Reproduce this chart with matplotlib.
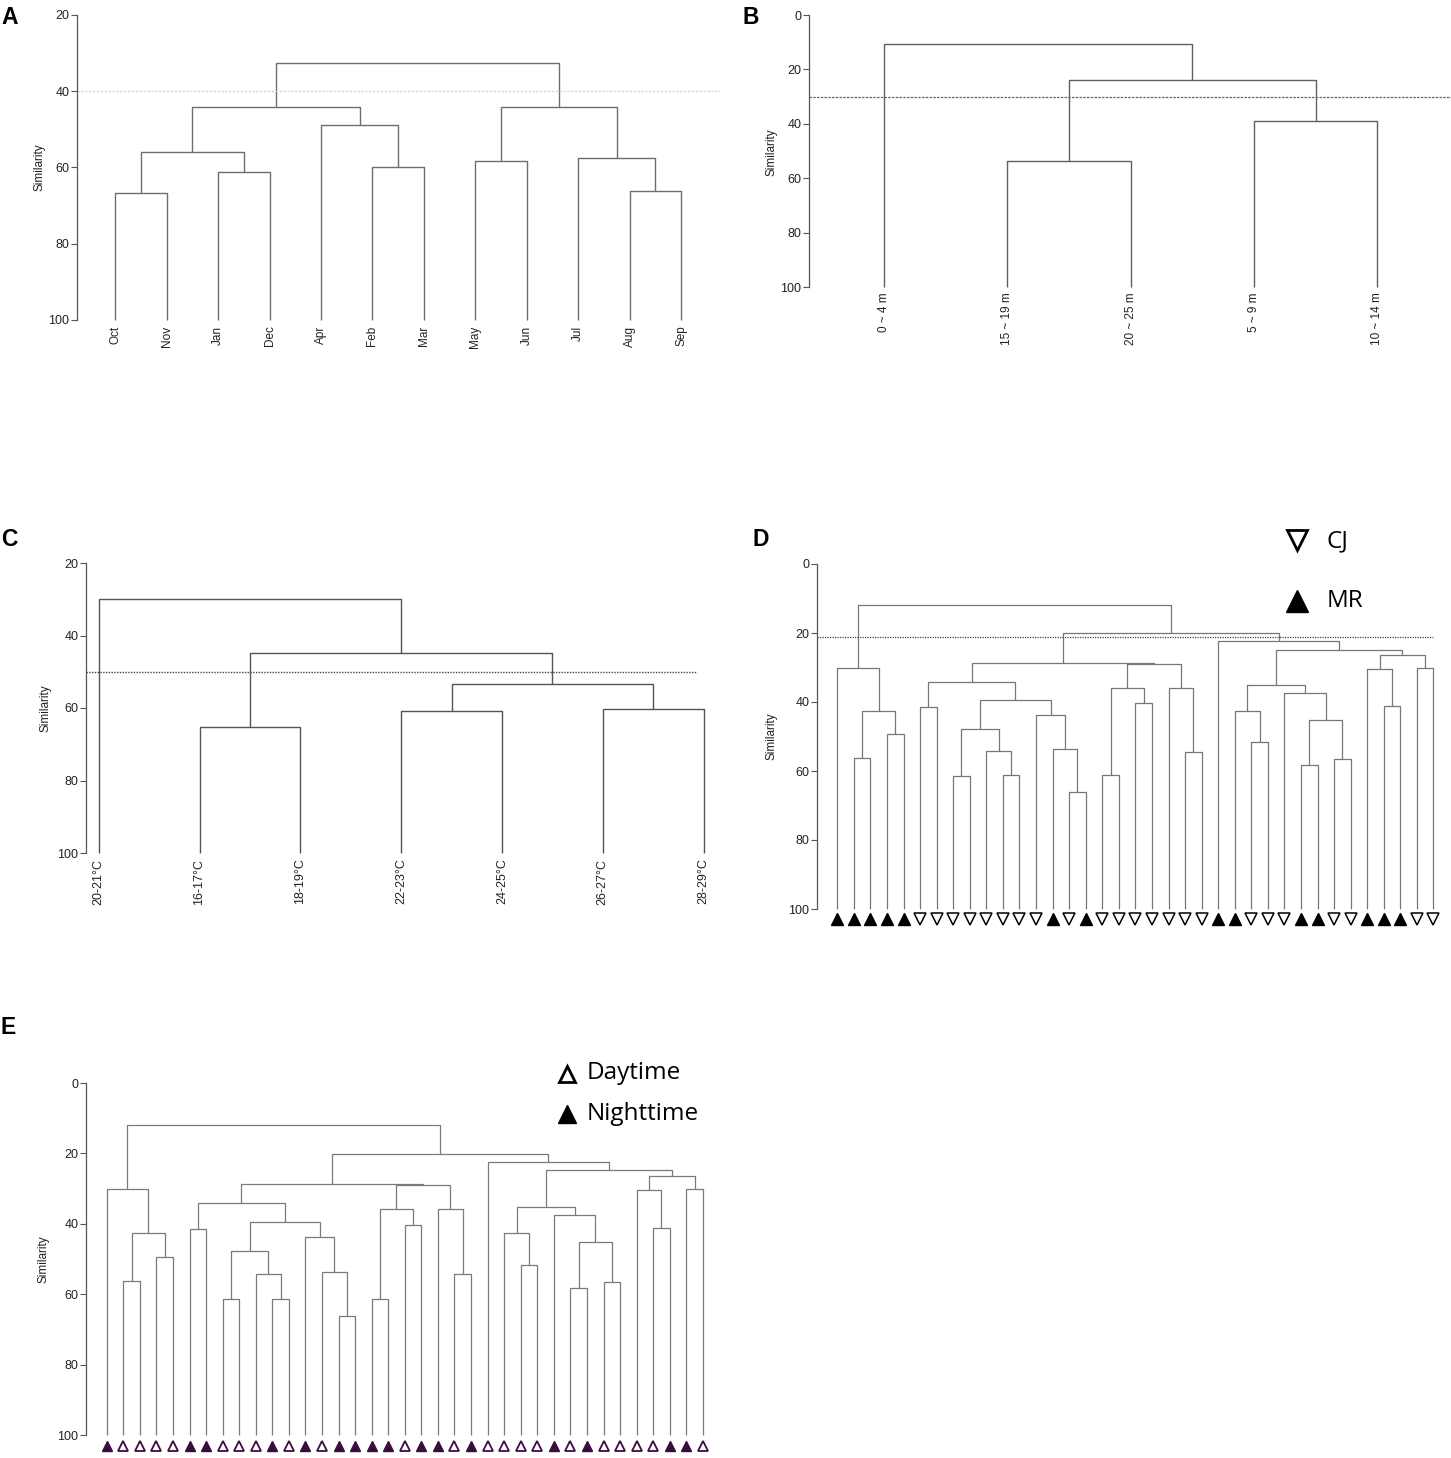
import numpy as np
import matplotlib.pyplot as plt
from matplotlib.lines import Line2D

plt.rcParams['font.family'] = ['Liberation Sans', 'DejaVu Sans']

W, H = 1451, 1458

# A: monthly clusters
month_labels = ['Oct', 'Nov', 'Jan', 'Dec', 'Apr', 'Feb', 'Mar', 'May', 'Jun', 'Jul', 'Aug', 'Sep']
month_links = [(0, 1, 66.6), (2, 3, 61.3), (12, 13, 55.9), (5, 6, 60.0), (4, 15, 48.9),
               (14, 16, 44.2), (7, 8, 58.2), (10, 11, 66.1), (9, 19, 57.4), (18, 20, 44.2),
               (17, 21, 32.7)]
month_cut = 40

# B: depth classes
depth_labels = ['0 ~ 4 m', '15 ~ 19 m', '20 ~ 25 m', '5 ~ 9 m', '10 ~ 14 m']
depth_links = [(1, 2, 53.5), (3, 4, 38.8), (5, 6, 23.9), (0, 7, 10.5)]
depth_cut = 30

# C: temperature classes
temp_labels = ['20-21°C', '16-17°C', '18-19°C', '22-23°C', '24-25°C', '26-27°C', '28-29°C']
temp_links = [(1, 2, 65.2), (3, 4, 60.7), (5, 6, 60.2), (8, 9, 53.4), (7, 10, 44.9), (0, 11, 29.8)]
temp_cut = 50

# D / E: 37 samples, same tree
sample_links = [(1, 2, 56.2), (3, 4, 49.4), (37, 38, 42.7), (0, 39, 30.1),
                (5, 6, 41.4), (7, 8, 61.5), (10, 11, 61.3), (9, 43, 54.3), (42, 44, 47.8),
                (14, 15, 66.1), (13, 46, 53.7), (12, 47, 43.8), (45, 48, 39.4), (41, 49, 34.2),
                (16, 17, 61.3), (18, 19, 40.3), (51, 52, 35.8), (21, 22, 54.4), (20, 54, 35.8),
                (53, 55, 29.1), (50, 56, 28.6),
                (25, 26, 51.6), (24, 58, 42.6), (28, 29, 58.3), (30, 31, 56.6), (60, 61, 45.1),
                (27, 62, 37.4), (59, 63, 35.2), (33, 34, 41.2), (32, 65, 30.3), (35, 36, 30.1),
                (66, 67, 26.3), (64, 68, 24.8), (23, 69, 22.4), (57, 70, 20.1), (40, 71, 11.8)]
site_group = [1, 1, 1, 1, 1, 0, 0, 0, 0, 0, 0, 0, 0, 1, 0, 1, 0, 0, 0, 0, 0, 0, 0,
              1, 1, 0, 0, 0, 1, 1, 0, 0, 1, 1, 1, 0, 0]   # 1 = MR, 0 = CJ
time_group = [1, 0, 0, 0, 0, 1, 1, 0, 0, 0, 1, 0, 1, 0, 1, 1, 1, 1, 0, 1, 1, 0, 1,
              0, 0, 0, 0, 1, 0, 1, 0, 0, 0, 0, 1, 1, 0]   # 1 = Nighttime
site_cut = 21.3

fig = plt.figure(figsize=(W / 100, H / 100), dpi=100)


def panel(left, top, right, bottom, x0, dx, ytop, ticks):
    ax = fig.add_axes([left / W, 1 - bottom / H, (right - left) / W, (bottom - top) / H])
    ax.set_xlim((left - x0) / dx, (right - x0) / dx)
    ax.set_ylim(100, ytop)
    for s in ['top', 'right', 'bottom']:
        ax.spines[s].set_visible(False)
    ax.spines['left'].set_color('#555555')
    ax.spines['left'].set_linewidth(0.9)
    ax.set_yticks(ticks)
    ax.tick_params(axis='y', length=4, width=0.8, color='#555555', labelsize=9,
                   labelcolor='#222222', pad=1.5)
    ax.tick_params(axis='x', length=0, labelsize=8.5, labelcolor='#222222', pad=4)
    ax.patch.set_alpha(0)
    return ax


def draw_tree(ax, links, n, color='#707070', lw=1.0):
    xs = {i: float(i) for i in range(n)}
    hs = {i: 100.0 for i in range(n)}
    for k, (a, b, h) in enumerate(links):
        ax.plot([xs[a], xs[a], xs[b], xs[b]], [hs[a], h, h, hs[b]],
                color=color, lw=lw, solid_capstyle='butt', clip_on=False)
        xs[n + k] = (xs[a] + xs[b]) / 2
        hs[n + k] = h


def sim_label(x, y):
    fig.text(x / W, 1 - y / H, 'Similarity', rotation=90, ha='center', va='center',
             fontsize=8.5, color='#222222')


def letter(x, y, s):
    fig.text(x / W, 1 - y / H, s, ha='left', va='center', fontsize=16.5,
             fontweight='bold')


# ---- A
axA = panel(77, 15, 720, 320, 115.2, 51.44, 20, [20, 40, 60, 80, 100])
draw_tree(axA, month_links, len(month_labels), color='#6e6e6e')
axA.axhline(month_cut, color='#cfcfcf', lw=0.8, ls=(0, (2, 1.5)))
axA.set_xticks(range(len(month_labels)))
axA.set_xticklabels(month_labels, rotation=90, va='top', ha='center')
sim_label(40, 167)
letter(1, 17, 'A')

# ---- B
axB = panel(809, 15, 1451, 287, 884, 123.3, 0, [0, 20, 40, 60, 80, 100])
draw_tree(axB, depth_links, len(depth_labels), color='#606060')
axB.axhline(depth_cut, color='#666666', lw=0.9, ls=(0, (2, 1)))
axB.set_xticks(range(len(depth_labels)))
axB.set_xticklabels(depth_labels, rotation=90, va='top', ha='center')
sim_label(771, 152)
letter(743, 17, 'B')

# ---- C
axC = panel(86, 563, 720, 853, 98.7, 100.8, 20, [20, 40, 60, 80, 100])
draw_tree(axC, temp_links, len(temp_labels), color='#555555')
axC.hlines(temp_cut, axC.get_xlim()[0], 5.93, color='#444444', lw=1.0, ls=(0, (1, 1)))
axC.set_xticks(range(len(temp_labels)))
axC.set_xticklabels(temp_labels, rotation=90, va='top', ha='center', fontsize=9)
sim_label(45, 708)
letter(1, 540, 'C')

# ---- D
n = len(site_group)
axD = panel(817, 564, 1451, 909, 837.3, 16.56, 0, [0, 20, 40, 60, 80, 100])
draw_tree(axD, sample_links, n, color='#777777', lw=0.9)
axD.hlines(site_cut, axD.get_xlim()[0], n - 1, color='#444444', lw=0.9, ls=(0, (1, 1)))
axD.set_xticks([])
idx = np.arange(n)
sg = np.array(site_group)
axD.plot(idx[sg == 1], np.full((sg == 1).sum(), 102.9), ls='none', marker='^', ms=8,
         mfc='black', mec='black', clip_on=False)
axD.plot(idx[sg == 0], np.full((sg == 0).sum(), 102.9), ls='none', marker='v', ms=8,
         mfc='white', mec='black', mew=1.1, clip_on=False)
sim_label(772, 736)
letter(752, 540, 'D')
fig.add_artist(Line2D([1296.7 / W], [1 - 540.3 / H], marker='v', ms=15, mfc='white',
                      mec='black', mew=2, transform=fig.transFigure))
fig.add_artist(Line2D([1296.7 / W], [1 - 600.5 / H], marker='^', ms=16, mfc='black',
                      mec='black', transform=fig.transFigure))
fig.text(1327 / W, 1 - 541 / H, 'CJ', fontsize=17.5, va='center', ha='left',
         family=['Open Sans', 'DejaVu Sans'])
fig.text(1327 / W, 1 - 601 / H, 'MR', fontsize=17.5, va='center', ha='left',
         family=['Open Sans', 'DejaVu Sans'])

# ---- E
purple = '#3b0d3f'
axE = panel(86, 1083, 720, 1435, 106.7, 16.56, 0, [0, 20, 40, 60, 80, 100])
draw_tree(axE, sample_links, n, color='#7a7a7a', lw=0.9)
axE.set_xticks([])
tg = np.array(time_group)
axE.plot(idx[tg == 1], np.full((tg == 1).sum(), 103.0), ls='none', marker='^', ms=7.5,
         mfc=purple, mec=purple, clip_on=False)
axE.plot(idx[tg == 0], np.full((tg == 0).sum(), 103.0), ls='none', marker='^', ms=7.5,
         mfc='white', mec=purple, mew=1.3, clip_on=False)
sim_label(44, 1259)
letter(1, 1027, 'E')
fig.add_artist(Line2D([566.7 / W], [1 - 1074 / H], marker='^', ms=12, mfc='white',
                      mec='black', mew=2, transform=fig.transFigure))
fig.add_artist(Line2D([566.7 / W], [1 - 1114 / H], marker='^', ms=13, mfc='black',
                      mec='black', transform=fig.transFigure))
fig.text(587 / W, 1 - 1073 / H, 'Daytime', fontsize=17.5, va='center', ha='left',
         family=['Open Sans', 'DejaVu Sans'])
fig.text(587 / W, 1 - 1114 / H, 'Nighttime', fontsize=17.5, va='center', ha='left',
         family=['Open Sans', 'DejaVu Sans'])

fig.savefig('out.png', dpi=100, facecolor='white')
